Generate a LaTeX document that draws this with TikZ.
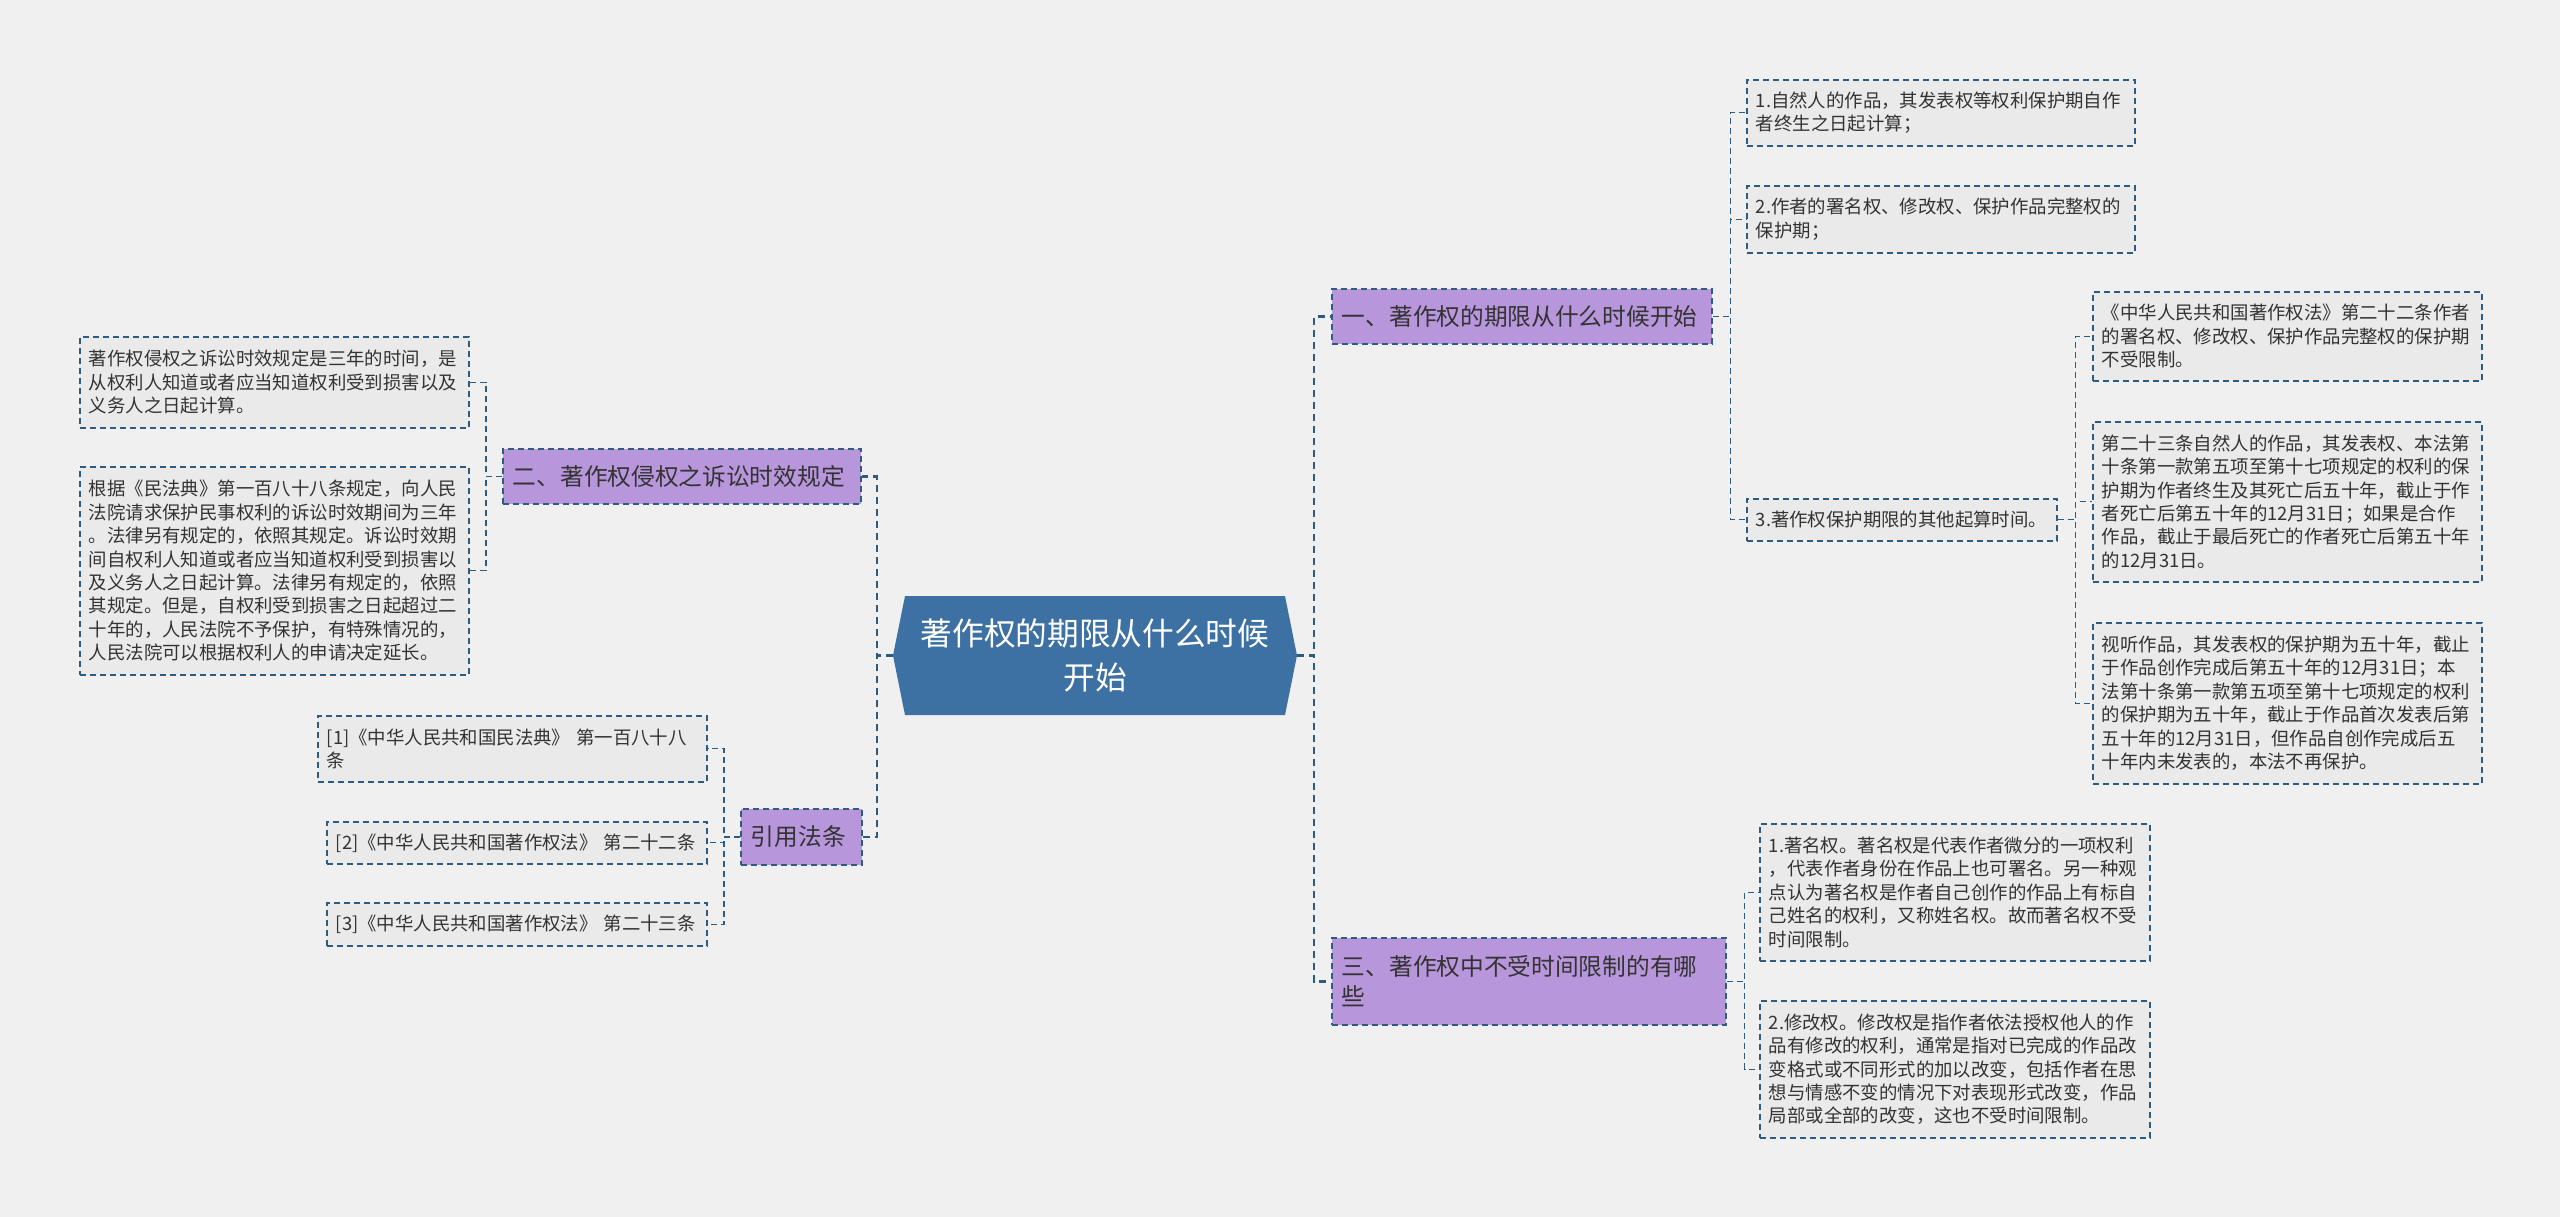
\documentclass[tikz,border=0pt]{standalone}
\usepackage{fontspec}
\newfontfamily\cjk{Noto Sans CJK SC}
\definecolor{bgcol}{HTML}{F0F0F0}
\definecolor{rootblue}{HTML}{3E71A3}
\definecolor{branchpurple}{HTML}{B896DB}
\definecolor{leafgray}{HTML}{EAEAEA}
\definecolor{linkblue}{HTML}{2E5B80}
\definecolor{textgray}{HTML}{333333}

\tikzset{
  leaf/.style={draw=linkblue, line width=1.6pt, dash pattern=on 6pt off 4pt,
    fill=leafgray, anchor=north west, inner xsep=9pt, inner ysep=0pt,
    align=left, text=textgray, font=\cjk\fontsize{18.4}{23.4}\selectfont},
  branch/.style={draw=linkblue, line width=1.8pt, dash pattern=on 6pt off 4pt,
    fill=branchpurple, anchor=north west, inner xsep=10pt, inner ysep=0pt,
    align=left, text=textgray, font=\cjk\fontsize{23.7}{30}\selectfont},
  link/.style={draw=linkblue, line width=1.2pt, dash pattern=on 6pt off 4pt},
  mainlink/.style={link, line width=2.4pt, dash pattern=on 7pt off 5pt},
}

\begin{document}
\begin{tikzpicture}[x=1pt, y=-1pt]
    % the canvas
    \fill[bgcol] (0,0) rectangle (2560,1217);

    % the central topic (hexagon first, text node on top)
    \fill[rootblue] (893,655.5) -- (905,596) -- (1285,596) -- (1297,655.5)
        -- (1285,715) -- (905,715) -- cycle;
    \node[minimum width=404, minimum height=119, inner sep=0pt, align=center,
        text=white, font=\cjk\fontsize{31.7}{44}\selectfont]
        (root) at (1095,655.5) {著作权的期限从什么时候\\开始};

    % the main branches
    \node[branch, minimum height=55, text width=338pt] (two) at (502,448)
        {二、著作权侵权之诉讼时效规定};
    \node[branch, minimum height=56, text width=101pt] (cite) at (740,808)
        {引用法条};
    \node[branch, minimum height=55, text width=360pt] (one) at (1331,288)
        {一、著作权的期限从什么时候开始};
    \node[branch, minimum height=87, text width=374pt] (three) at (1331,937)
        {三、著作权中不受时间限制的有哪\\些};

    % the leaves on the left
    \node[leaf, minimum height=91, text width=371pt] (two1) at (79,336)
        {著作权侵权之诉讼时效规定是三年的时间，是\\从权利人知道或者应当知道权利受到损害以及\\义务人之日起计算。};
    \node[leaf, minimum height=208, text width=371pt] (two2) at (79,466)
        {根据《民法典》第一百八十八条规定，向人民\\法院请求保护民事权利的诉讼时效期间为三年\\。法律另有规定的，依照其规定。诉讼时效期\\间自权利人知道或者应当知道权利受到损害以\\及义务人之日起计算。法律另有规定的，依照\\其规定。但是，自权利受到损害之日起超过二\\十年的，人民法院不予保护，有特殊情况的，\\人民法院可以根据权利人的申请决定延长。};
    \node[leaf, minimum height=66, text width=371pt] (cite1) at (317,715)
        {[1]《中华人民共和国民法典》 第一百八十八\\条};
    \node[leaf, minimum height=42, text width=362pt] (cite2) at (326,821)
        {[2]《中华人民共和国著作权法》 第二十二条};
    \node[leaf, minimum height=43, text width=362pt] (cite3) at (326,902)
        {[3]《中华人民共和国著作权法》 第二十三条};

    % the leaves on the right
    \node[leaf, minimum height=66, text width=370pt] (one1) at (1746,79)
        {1.自然人的作品，其发表权等权利保护期自作\\者终生之日起计算；};
    \node[leaf, minimum height=67, text width=370pt] (one2) at (1746,185)
        {2.作者的署名权、修改权、保护作品完整权的\\保护期；};
    \node[leaf, minimum height=42, text width=292pt] (one3) at (1746,498)
        {3.著作权保护期限的其他起算时间。};
    \node[leaf, minimum height=89, text width=371pt] (one3a) at (2092,291)
        {《中华人民共和国著作权法》第二十二条作者\\的署名权、修改权、保护作品完整权的保护期\\不受限制。};
    \node[leaf, minimum height=160, text width=371pt] (one3b) at (2092,421)
        {第二十三条自然人的作品，其发表权、本法第\\十条第一款第五项至第十七项规定的权利的保\\护期为作者终生及其死亡后五十年，截止于作\\者死亡后第五十年的12月31日；如果是合作\\作品，截止于最后死亡的作者死亡后第五十年\\的12月31日。};
    \node[leaf, minimum height=161, text width=371pt] (one3c) at (2092,622)
        {视听作品，其发表权的保护期为五十年，截止\\于作品创作完成后第五十年的12月31日；本\\法第十条第一款第五项至第十七项规定的权利\\的保护期为五十年，截止于作品首次发表后第\\五十年的12月31日，但作品自创作完成后五\\十年内未发表的，本法不再保护。};
    \node[leaf, minimum height=137, text width=372pt] (three1) at (1759,823)
        {1.著名权。著名权是代表作者微分的一项权利\\，代表作者身份在作品上也可署名。另一种观\\点认为著名权是作者自己创作的作品上有标自\\己姓名的权利，又称姓名权。故而著名权不受\\时间限制。};
    \node[leaf, minimum height=137, text width=372pt] (three2) at (1759,1000)
        {2.修改权。修改权是指作者依法授权他人的作\\品有修改的权利，通常是指对已完成的作品改\\变格式或不同形式的加以改变，包括作者在思\\想与情感不变的情况下对表现形式改变，作品\\局部或全部的改变，这也不受时间限制。};

    % draw the connectors
    \draw[mainlink] (root.east) -- ++(17,0) |- (one.west);
    \draw[mainlink] (root.east) -- ++(17,0) |- (three.west);
    \draw[mainlink] (root.west) -- ++(-16,0) |- (two.east);
    \draw[mainlink] (root.west) -- ++(-16,0) |- (cite.east);

    \draw[link] (two.west) -- ++(-16,0) |- (two1.east);
    \draw[link] (two.west) -- ++(-16,0) |- (two2.east);
    \draw[link] (cite.west) -- ++(-16,0) |- (cite1.east);
    \draw[link] (cite.west) -- ++(-16,0) |- (cite2.east);
    \draw[link] (cite.west) -- ++(-16,0) |- (cite3.east);

    \draw[link] (one.east) -- ++(18,0) |- (one1.west);
    \draw[link] (one.east) -- ++(18,0) |- (one2.west);
    \draw[link] (one.east) -- ++(18,0) |- (one3.west);
    \draw[link] (one3.east) -- ++(18,0) |- (one3a.west);
    \draw[link] (one3.east) -- ++(18,0) |- (one3b.west);
    \draw[link] (one3.east) -- ++(18,0) |- (one3c.west);
    \draw[link] (three.east) -- ++(18,0) |- (three1.west);
    \draw[link] (three.east) -- ++(18,0) |- (three2.west);

\end{tikzpicture}
\end{document}
